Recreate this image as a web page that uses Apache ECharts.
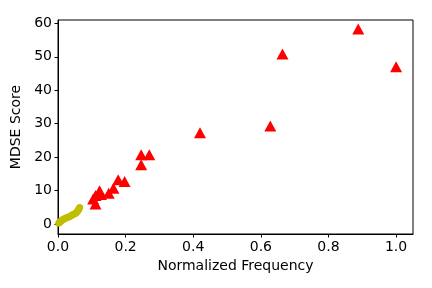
<!DOCTYPE html>
<html><head><meta charset="utf-8">
<script src="https://cdn.jsdelivr.net/npm/echarts@6/dist/echarts.min.js"></script>
<style>html,body{margin:0;padding:0;background:#fff}#c{width:432px;height:288px}</style>
</head><body><div id="c"></div>
<script>
const redX = [0.104,0.111,0.111,0.123,0.127,0.150,0.164,0.178,0.197,0.246,0.270,0.246,0.420,0.628,0.664,0.888,1.000];
const redY = [7.5,8.5,6.0,9.9,8.8,9.2,10.7,13.2,12.7,20.7,20.7,17.7,27.3,29.3,50.8,58.3,47.0];
const yelX = [0.002,0.005,0.008,0.010,0.013,0.016,0.020,0.024,0.028,0.032,0.036,0.040,0.044,0.048,0.052,0.055,0.058,0.060,0.062,0.064];
const yelY = [0.2,0.5,0.8,1.0,1.2,1.4,1.6,1.8,2.0,2.1,2.3,2.5,2.8,3.0,3.2,3.5,3.9,4.2,4.5,4.9];
const xTicks = [0,0.2,0.4,0.6,0.8,1.0];
const yTicks = [0,10,20,30,40,50,60];
const xName = 'Normalized Frequency';
const yName = 'MDSE Score';

const font = 'DejaVu Sans';
const chart = echarts.init(document.getElementById('c'), null, {renderer:'canvas'});
const axisCommon = {
  axisLine:{show:true, onZero:false, lineStyle:{color:'#000', width:1}},
  axisTick:{show:true, inside:false, length:3.5, lineStyle:{color:'#000'}},
  splitLine:{show:false},
  nameLocation:'middle',
  nameTextStyle:{fontFamily:font, fontSize:14, color:'#000'}
};
chart.setOption({
  animation:false,
  backgroundColor:'#fff',
  grid:{left:58, right:19, top:20, bottom:54, show:true, borderColor:'#000', borderWidth:1, backgroundColor:'transparent'},
  xAxis:Object.assign({}, axisCommon, {
    type:'value', min:0, max:1.05, name:xName, nameGap:23,
    axisTick:Object.assign({}, axisCommon.axisTick, {customValues:xTicks}),
    axisLabel:{customValues:xTicks, formatter:v=>v.toFixed(1), fontFamily:font, fontSize:14, color:'#000', margin:6}
  }),
  yAxis:Object.assign({}, axisCommon, {
    type:'value', min:-3, max:61, name:yName, nameGap:27,
    axisTick:Object.assign({}, axisCommon.axisTick, {customValues:yTicks}),
    axisLabel:{customValues:yTicks, formatter:v=>String(v), fontFamily:font, fontSize:14, color:'#000', margin:6}
  }),
  series:[
    {type:'scatter', data:yelX.map((x,i)=>[x,yelY[i]]), symbol:'circle', symbolSize:7, itemStyle:{color:'#bfbf00', opacity:1}},
    {type:'scatter', data:redX.map((x,i)=>[x,redY[i]]), symbol:'triangle', symbolSize:[12,11], itemStyle:{color:'#ff0000', opacity:1}}
  ]
});
</script></body></html>
